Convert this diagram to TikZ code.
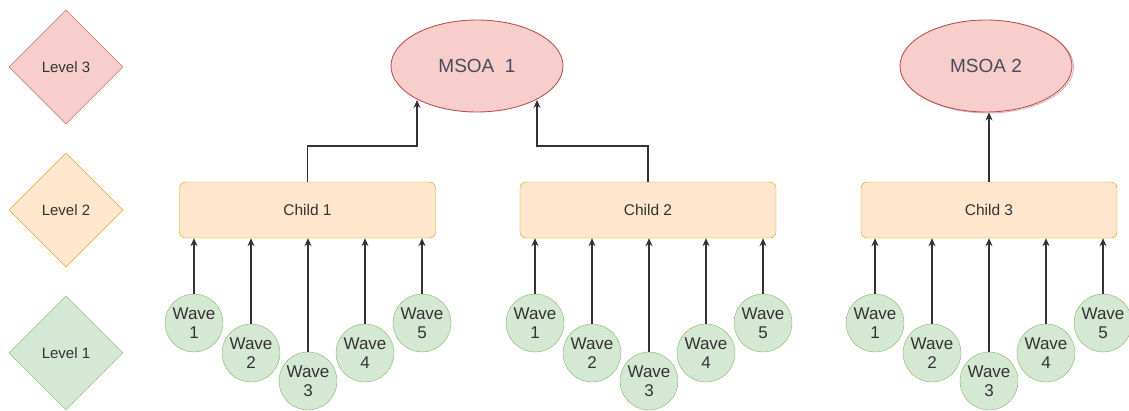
\documentclass[tikz,border=0pt]{standalone}
\usepackage{fontspec}
\setmainfont{Liberation Sans}
\usetikzlibrary{shapes.geometric,arrows.meta,calc}

\definecolor{redfill}{HTML}{F8CECC}
\definecolor{redline}{HTML}{B85450}
\definecolor{orgfill}{HTML}{FFE6CC}
\definecolor{orgline}{HTML}{D79B00}
\definecolor{grnfill}{HTML}{D5E8D4}
\definecolor{grnline}{HTML}{82B366}
\definecolor{ink}{HTML}{333333}
\definecolor{slate}{HTML}{4A4A5C}

\tikzset{
  level/.style={diamond, aspect=1, minimum width=114pt, minimum height=114pt,
    inner sep=0pt, font=\fontsize{15}{17}\selectfont, text=ink},
  lvl3/.style={level, draw=redline, fill=redfill},
  lvl2/.style={level, draw=orgline, fill=orgfill},
  lvl1/.style={level, draw=grnline, fill=grnfill},
  msoa/.style={ellipse, draw=redline, fill=redfill, line width=0.9pt,
    minimum width=172pt, minimum height=92pt, inner sep=0pt,
    font=\fontsize{19}{21}\selectfont, text=slate},
  child/.style={rectangle, rounded corners=6pt, draw=orgline, fill=orgfill,
    minimum width=256pt, minimum height=56pt, inner sep=0pt,
    font=\fontsize{15.5}{17}\selectfont, text=ink},
  wave/.style={circle, draw=grnline, fill=grnfill, minimum size=58pt,
    inner sep=0pt, align=center, font=\fontsize{17}{19}\selectfont, text=ink},
  arr/.style={draw=ink, line width=1.1pt, -{Stealth[length=8pt,width=7pt]}},
}

\begin{document}
\begin{tikzpicture}[x=1pt,y=-1pt]
\useasboundingbox (0,0) rectangle (1129,410);

% legend of levels
\node[lvl3] (l3) at (66,67)  {Level 3};
\node[lvl2] (l2) at (66,210) {Level 2};
\node[lvl1] (l1) at (66,353) {Level 1};

% top level areas
\node[msoa] (m1) at (477,66) {MSOA\ \ 1};
\node[msoa, draw=redline!45, fill=none] at (987.5,67) {};
\node[msoa] (m2) at (986,66) {MSOA\ 2};

% children
\node[child] (c1) at (307.5,210) {Child 1};
\node[child] (c2) at (648,210)   {Child 2};
\node[child] (c3) at (989,210)   {Child 3};

% waves under each child
\foreach \g/\xa in {1/194, 2/535, 3/875}{
  \node[wave] (w\g1) at (\xa,323)      {Wave\\1};
  \node[wave] (w\g2) at (\xa+57,353)   {Wave\\2};
  \node[wave] (w\g3) at (\xa+114,381)  {Wave\\3};
  \node[wave] (w\g4) at (\xa+171,353)  {Wave\\4};
  \node[wave] (w\g5) at (\xa+228,323)  {Wave\\5};
  \foreach \k in {1,...,5}{
    \draw[arr] (w\g\k.north) -- (w\g\k.north |- c\g.south);
  }
}

% children to areas
\coordinate (m1l) at ($(m1.center)+(-60,34)$);
\coordinate (m1r) at ($(m1.center)+(60,34)$);
\draw[arr] (c1.north) |- ($(m1l)+(0,46)$) -- (m1l);
\draw[arr] (c2.north) |- ($(m1r)+(0,46)$) -- (m1r);
\draw[arr] (c3.north) -- (c3.north |- m2.south);
\end{tikzpicture}
\end{document}
